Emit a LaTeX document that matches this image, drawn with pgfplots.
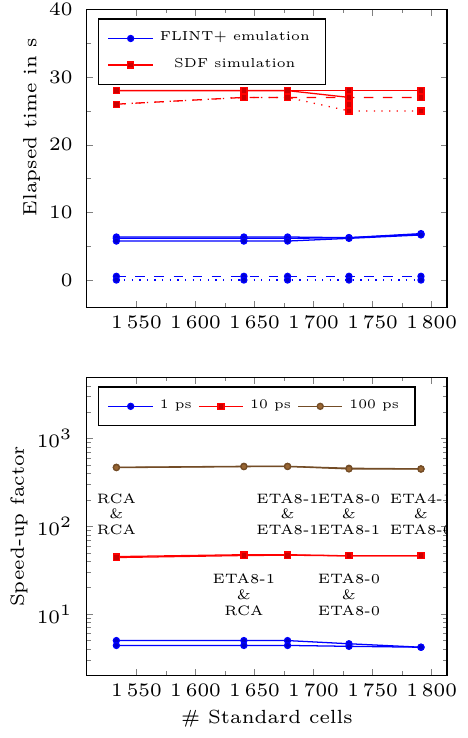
\documentclass[border=0pt]{standalone}
\usepackage{pgfplots}
\pgfplotsset{compat=1.18}
\newcommand{\axfont}{\fontsize{6.3}{7.3}\selectfont}
\newcommand{\labfont}{\fontsize{6}{7}\selectfont}
\newcommand{\legfont}{\fontsize{4.1}{5}\selectfont}
\newcommand{\nodefont}{\fontsize{4.3}{5}\selectfont}
\begin{document}
\begin{tikzpicture}
\pgfplotsset{
  every axis/.append style={
    width=113.4pt, height=93.9pt, scale only axis,
    xmin=1508, xmax=1813,
    xtick={1550,1600,...,1800},
    minor x tick num=1,
    major tick length=2pt, minor tick length=1.3pt,
    /pgf/number format/1000 sep={\,},
    tick label style={font=\axfont},
    xticklabel style={yshift=0.8pt},
    yticklabel style={xshift=-1pt, inner ysep=1pt},
    label style={font=\labfont},
    xlabel style={yshift=2.5pt},
    legend style={font=\legfont, legend cell align=center},
    legend image code/.code={\draw[mark repeat=2,mark phase=2] plot coordinates {(0pt,0pt) (7pt,0pt) (14pt,0pt)};},
    mark size=0.95pt,
  },
  bl/.style={blue, mark=*, mark options={solid, fill=blue!80!black}},
  rd/.style={red, mark=square*, mark options={solid, fill=red!80!black}},
  br/.style={brown!60!black, mark=*, mark options={solid, fill=brown!80!black}},
}
\begin{axis}[name=top, anchor=north west, at={(0,0)},
  ymin=-4, ymax=40, ytick={0,10,20,30,40}, minor y tick num=1,
  ylabel={Elapsed time in s}, ylabel style={at={(ticklabel cs:0.604,-4pt)}},
  legend pos=north west]
\addplot[bl] coordinates {(1533,6.4) (1641,6.4) (1678,6.4) (1730,6.3) (1791,6.9)};
\addlegendentry{FLINT+ emulation}
\addplot[rd] coordinates {(1533,28) (1641,28) (1678,28) (1730,28) (1791,28)};
\addlegendentry{SDF simulation}
\addplot[bl, forget plot] coordinates {(1533,6.2) (1641,6.2) (1678,6.2) (1730,6.3) (1791,6.8)};
\addplot[bl, forget plot] coordinates {(1533,5.8) (1641,5.8) (1678,5.8) (1730,6.2) (1791,6.7)};
\addplot[bl, dashed, forget plot] coordinates {(1533,0.6) (1641,0.6) (1678,0.6) (1730,0.6) (1791,0.6)};
\addplot[bl, dotted, forget plot] coordinates {(1533,0.05) (1641,0.05) (1678,0.05) (1730,0.05) (1791,0.05)};
\addplot[rd, forget plot] coordinates {(1533,28) (1641,28) (1678,28) (1730,27) (1730,26)};
\addplot[rd, dashed, forget plot] coordinates {(1533,26) (1641,27) (1678,27) (1730,27) (1791,27)};
\addplot[rd, dotted, forget plot] coordinates {(1533,26) (1641,27) (1678,27) (1730,25) (1791,25)};
\end{axis}
\begin{axis}[anchor=north west, at={(0,-115.9pt)},
  ymode=log, ymin=2, ymax=5000,
  ylabel={Speed-up factor}, ylabel style={at={(ticklabel cs:0.5,-4pt)}},
  xlabel={\# Standard cells},
  legend columns=3, legend pos=north west]
\addplot[bl] coordinates {(1533,5.0) (1641,5.0) (1678,5.0) (1730,4.6) (1791,4.2)};
\addlegendentry{1 ps}
\addplot[rd] coordinates {(1533,45.3) (1641,47.6) (1678,47.6) (1730,46.2) (1791,46.2)};
\addlegendentry{10 ps}
\addplot[br] coordinates {(1533,472) (1641,484) (1678,484) (1730,460) (1791,453)};
\addlegendentry{100 ps}
\addplot[bl, forget plot] coordinates {(1533,4.4) (1641,4.4) (1678,4.4) (1730,4.3) (1791,4.2)};
\addplot[rd, forget plot] coordinates {(1533,44.2) (1641,46.6) (1678,47.0) (1730,46.2) (1791,46.2)};
\addplot[br, forget plot] coordinates {(1533,468) (1641,480) (1678,482) (1730,452) (1791,450)};
\node[align=center, font=\nodefont] at (axis cs:1533,138) {RCA\\\&\\RCA};
\node[align=center, font=\nodefont] at (axis cs:1678,138) {ETA8-1\\\&\\ETA8-1};
\node[align=center, font=\nodefont] at (axis cs:1730,138) {ETA8-0\\\&\\ETA8-1};
\node[align=center, font=\nodefont] at (axis cs:1791,138) {ETA4-1\\\&\\ETA8-0};
\node[align=center, font=\nodefont] at (axis cs:1641,16.6) {ETA8-1\\\&\\RCA};
\node[align=center, font=\nodefont] at (axis cs:1730,16.6) {ETA8-0\\\&\\ETA8-0};
\end{axis}
\end{tikzpicture}
\end{document}
